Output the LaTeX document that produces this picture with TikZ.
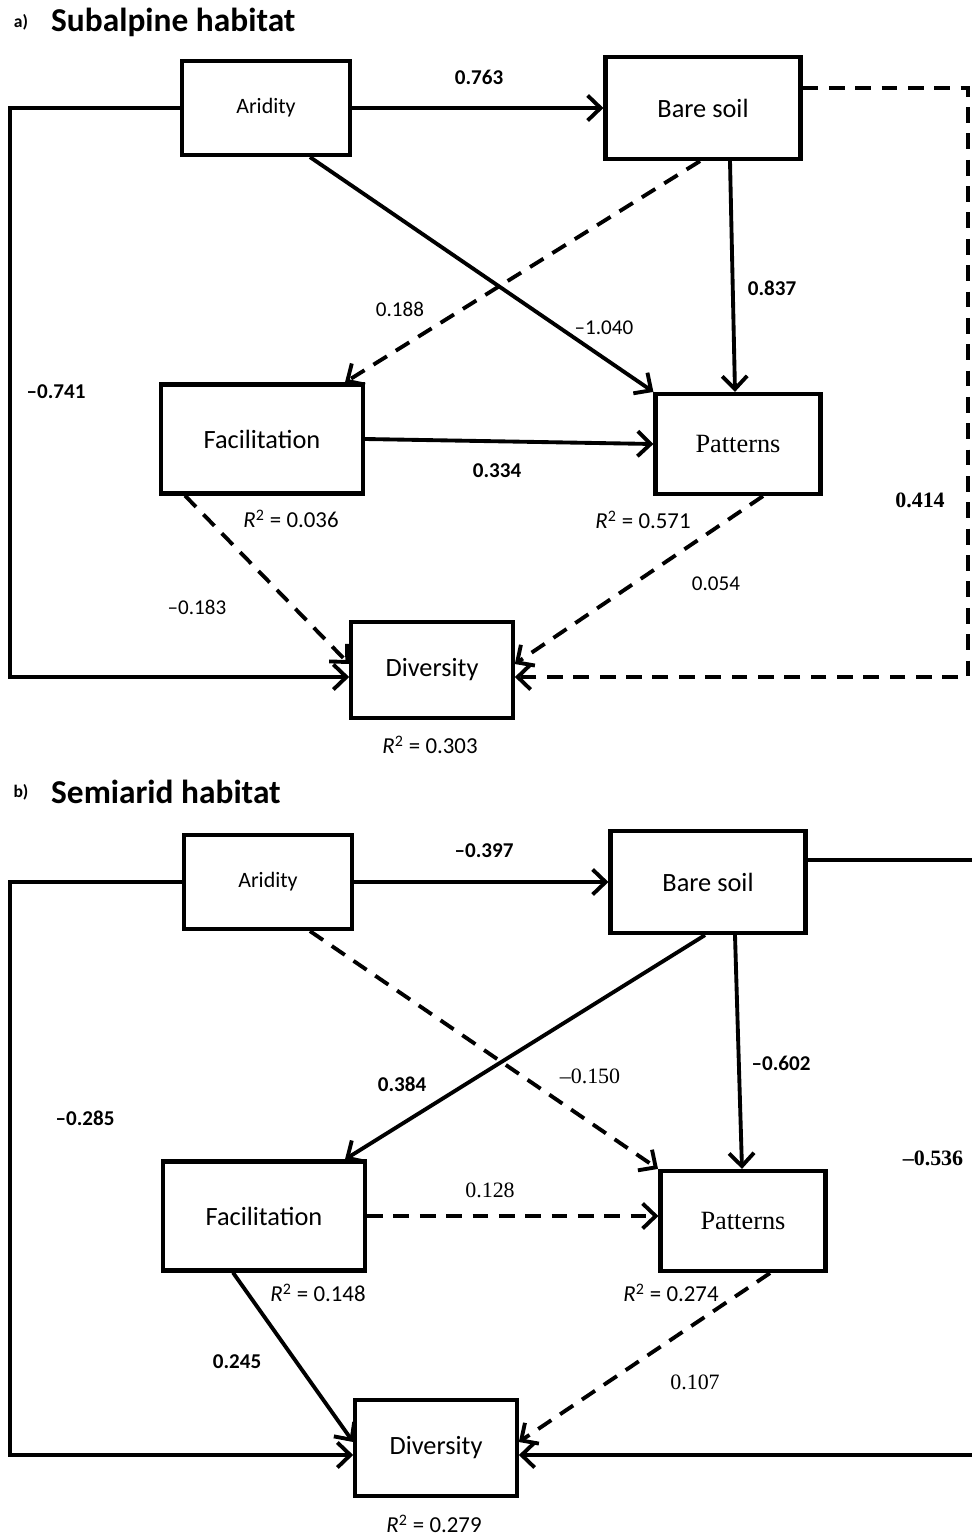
\documentclass[tikz,border=0pt]{standalone}
\usepackage{fontspec}
\setmainfont{Carlito}
\newfontfamily\timesfont[Ligatures=TeX]{Liberation Serif}
\usetikzlibrary{arrows.meta}

\begin{document}
\begin{tikzpicture}[
    x=0.02cm, y=-0.02cm,
    every node/.style={font=\fontsize{12}{14}\selectfont},
    var/.style={
        rectangle,
        draw,
        line width=2.4pt,
        fill=white,
        inner sep=0pt,
        align=center,
        font=\fontsize{15}{18}\selectfont
    },
    aridbox/.style={var, minimum width=3.35cm, minimum height=1.88cm, font=\fontsize{12.5}{15}\selectfont},
    barebox/.style={var, minimum width=3.9cm, minimum height=2.04cm},
    facbox/.style={var, minimum width=4.04cm, minimum height=2.18cm},
    patbox/.style={var, minimum width=3.3cm, minimum height=2.0cm, font=\timesfont\fontsize{15}{18}\selectfont},
    divbox/.style={var, minimum width=3.23cm, minimum height=1.93cm},
    arrow/.style={line width=2.2pt, -{Straight Barb[length=2.6mm, width=5mm]}},
    dasharrow/.style={arrow, dash pattern=on 9pt off 6pt},
    coef/.style={font=\bfseries\fontsize{12}{14}\selectfont},
    coefr/.style={font=\fontsize{12}{14}\selectfont},
    serif/.style={font=\timesfont\fontsize{12.5}{14}\selectfont},
    serifb/.style={font=\timesfont\bfseries\fontsize{12.5}{14}\selectfont},
    rsq/.style={font=\fontsize{13}{15}\selectfont},
    heading/.style={anchor=west, font=\bfseries\fontsize{19}{22}\selectfont},
    tag/.style={font=\bfseries\fontsize{10}{12}\selectfont}
]

\useasboundingbox (0,0) rectangle (972,1538);

\node[tag] (tagA) at (21,22) {a)};
\node[heading] (headA) at (45,22) {Subalpine habitat};

\node[aridbox] (aridA) at (266,108) {Aridity};
\node[barebox] (bareA) at (703,108) {Bare soil};
\node[facbox] (facA) at (262,439) {Facilitation};
\node[patbox] (patA) at (738,444) {Patterns};
\node[divbox] (divA) at (432,670) {Diversity};

\draw[arrow] (aridA) -- (bareA);
\draw[arrow] (aridA.west) -- (10,108) |- (divA.west |- 0,677);
\draw[arrow] (aridA.south -| 310,0) -- (patA.north west);
\draw[dasharrow] (bareA.south -| 700,0) -- (facA.north -| 345,0);
\draw[arrow] (bareA.south -| 730,0) -- (patA.north -| 735,0);
\draw[arrow] (facA.east) -- (patA.west);
\draw[dasharrow] (facA.south -| 185,0) -- (divA.west |- 0,664);
\draw[dasharrow] (patA.south -| 763,0) -- (divA.east |- 0,664);
\draw[dasharrow] (bareA.east |- 0,88) -- (968,88) |- (divA.east |- 0,677);

\node[coef] (cA1) at (479,77) {0.763};
\node[coef] (cA2) at (56,392) {--0.741};
\node[coefr] (cA3) at (604,328) {--1.040};
\node[coefr] (cA4) at (400,309) {0.188};
\node[coef] (cA5) at (772,288) {0.837};
\node[coef] (cA6) at (497,471) {0.334};
\node[coefr] (cA7) at (197,607) {--0.183};
\node[coefr] (cA8) at (716,584) {0.054};
\node[serifb] (cA9) at (920,500) {0.414};

\node[rsq] (rA1) at (291,519) {\textit{R}\textsuperscript{2} = 0.036};
\node[rsq] (rA2) at (643,520) {\textit{R}\textsuperscript{2} = 0.571};
\node[rsq] (rA3) at (430,745) {\textit{R}\textsuperscript{2} = 0.303};

\node[tag] (tagB) at (21,792) {b)};
\node[heading] (headB) at (45,792) {Semiarid habitat};

\node[aridbox] (aridB) at (268,882) {Aridity};
\node[barebox] (bareB) at (708,882) {Bare soil};
\node[facbox] (facB) at (264,1216) {Facilitation};
\node[patbox] (patB) at (743,1221) {Patterns};
\node[divbox] (divB) at (436,1448) {Diversity};

\draw[arrow] (aridB) -- (bareB);
\draw[arrow] (aridB.west) -- (10,882) |- (divB.west |- 0,1455);
\draw[dasharrow] (aridB.south -| 310,0) -- (patB.north -| 658,0);
\draw[arrow] (bareB.south -| 705,0) -- (facB.north -| 345,0);
\draw[arrow] (bareB.south -| 735,0) -- (patB.north -| 742,0);
\draw[dasharrow] (facB.east) -- (patB.west |- facB.east);
\draw[arrow] (facB.south -| 233,0) -- (divB.west |- 0,1442);
\draw[dasharrow] (patB.south -| 770,0) -- (divB.east |- 0,1442);
\draw[arrow] (bareB.east |- 0,860) -- (978,860) |- (divB.east |- 0,1455);

\node[coef] (cB1) at (484,851) {--0.397};
\node[coef] (cB2) at (85,1118) {--0.285};
\node[serif] (cB3) at (590,1076) {--0.150};
\node[coef] (cB4) at (402,1084) {0.384};
\node[coef] (cB5) at (781,1063) {--0.602};
\node[serif] (cB6) at (490,1190) {0.128};
\node[coef] (cB7) at (237,1362) {0.245};
\node[serif] (cB8) at (695,1382) {0.107};
\node[serifb] (cB9) at (933,1158) {--0.536};

\node[rsq] (rB1) at (318,1293) {\textit{R}\textsuperscript{2} = 0.148};
\node[rsq] (rB2) at (671,1293) {\textit{R}\textsuperscript{2} = 0.274};
\node[rsq] (rB3) at (434,1524) {\textit{R}\textsuperscript{2} = 0.279};

\end{tikzpicture}
\end{document}
